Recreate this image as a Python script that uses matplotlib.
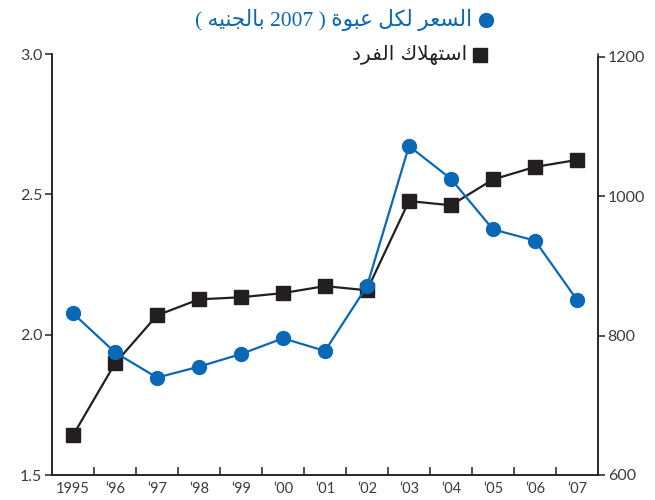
import re
import matplotlib
matplotlib.use("Agg")
import matplotlib.pyplot as plt
from matplotlib.lines import Line2D

years = ["1995", "‘96", "‘97", "‘98", "‘99", "‘00", "‘01", "‘02", "‘03", "‘04", "‘05", "‘06", "‘07"]
price = [2.076, 1.937, 1.847, 1.886, 1.931, 1.987, 1.942, 2.173, 2.672, 2.555, 2.375, 2.335, 2.124]
consumption = [657, 760, 829, 852, 855, 861, 871, 865, 993, 987, 1024, 1042, 1052]
price_ticks = [1.5, 2.0, 2.5, 3.0]
cons_ticks = [600, 800, 1000, 1200]
price_label = "السعر لكل عبوة ( 2007 بالجنيه )"
cons_label = "استهلاك الفرد"

BLUE = "#0a68b4"
BLACK = "#231f20"
GREY = "#3c3c3c"

# arabic presentation forms (matplotlib does no shaping / bidi)
DUAL = {"ب": 0xFE8F, "ت": 0xFE95, "ج": 0xFE9D, "س": 0xFEB1, "ع": 0xFEC9, "ف": 0xFED1,
        "ك": 0xFED9, "ل": 0xFEDD, "ن": 0xFEE5, "ه": 0xFEE9, "ي": 0xFEF1}
RIGHT = {"ا": 0xFE8D, "ة": 0xFE93, "د": 0xFEA9, "ر": 0xFEAD, "و": 0xFEED}


def shape(text):
    chars = []
    i = 0
    while i < len(text):
        if text[i] == "ل" and i + 1 < len(text) and text[i + 1] == "ا":
            chars.append("LA")
            i += 2
        else:
            chars.append(text[i])
            i += 1
    out = []
    for k, c in enumerate(chars):
        prev = chars[k - 1] if k > 0 else ""
        nxt = chars[k + 1] if k + 1 < len(chars) else ""
        after = prev in DUAL
        if c == "LA":
            out.append(chr(0xFEFC if after else 0xFEFB))
        elif c in DUAL:
            before = nxt in DUAL or nxt in RIGHT or nxt == "LA"
            off = 3 if (after and before) else 1 if after else 2 if before else 0
            out.append(chr(DUAL[c] + off))
        elif c in RIGHT:
            out.append(chr(RIGHT[c] + (1 if after else 0)))
        else:
            out.append(c)
    vis = "".join(out)[::-1]
    vis = re.sub(r"\d+", lambda m: m.group()[::-1], vis)
    return vis.translate(str.maketrans("()", ")("))


plt.rcParams["font.family"] = ["Lato", "DejaVu Sans"]

fig = plt.figure(figsize=(6.55, 5), dpi=100)
ax = fig.add_axes([52 / 655, 25 / 500, 546 / 655, 421 / 500])
ax2 = ax.twinx()

x = list(range(len(years)))
ax2.plot(x, consumption, color=BLACK, lw=1.6, marker="s", ms=10, mec=BLACK, mfc=BLACK, zorder=3)
ax.plot(x, price, color=BLUE, lw=1.6, marker="o", ms=10, mec=BLUE, mfc=BLUE, zorder=3)

ax.set_zorder(ax2.get_zorder() + 1)
ax.patch.set_visible(False)

ax.set_xlim(-0.5, len(years) - 0.5)
ax.set_ylim(1.5, 3.0)
ax2.set_ylim(600, 1204)

for a in (ax, ax2):
    a.spines["top"].set_visible(False)
    for s in ("left", "right", "bottom"):
        a.spines[s].set_color(BLACK)
        a.spines[s].set_linewidth(1.1)
ax2.spines["right"].set_bounds(600, 1200)

ax.set_yticks(price_ticks)
ax.set_yticklabels([f"{v:.1f}" for v in price_ticks])
ax2.set_yticks(cons_ticks)
ax2.set_yticklabels([str(v) for v in cons_ticks])
ax.tick_params(axis="y", direction="out", length=5, width=1.1, color=BLACK,
               labelsize=11.5, labelcolor=GREY, pad=2)
ax2.tick_params(axis="y", direction="out", length=5, width=1.1, color=BLACK,
                labelsize=11.5, labelcolor=GREY, pad=2)

# year boundaries as ticks, year names centred between them
ax.set_xticks([k + 0.5 for k in x[:-1]])
ax.set_xticklabels([])
ax.set_xticks(x, minor=True)
ax.set_xticklabels(years, minor=True)
ax.tick_params(axis="x", which="major", direction="in", length=6, width=1.1, color=BLACK)
ax.tick_params(axis="x", which="minor", length=0, labelsize=10.5, labelcolor=GREY, pad=5)

# legend drawn by hand so the arabic text sits right-aligned next to its marker
fig.add_artist(Line2D([486 / 655], [1 - 20 / 500], marker="o", ms=10, color=BLUE, ls=""))
fig.add_artist(Line2D([480 / 655], [1 - 55 / 500], marker="s", ms=10, color=BLACK, ls=""))
fig.text(472 / 655, 1 - 20 / 500, shape(price_label), ha="right", va="center",
         fontsize=15.5, color=BLUE, family=["Liberation Serif", "DejaVu Sans"])
fig.text(467 / 655, 1 - 55 / 500, shape(cons_label), ha="right", va="center",
         fontsize=14.5, color=BLACK, family=["DejaVu Sans"])

fig.savefig("out.png", dpi=100)
